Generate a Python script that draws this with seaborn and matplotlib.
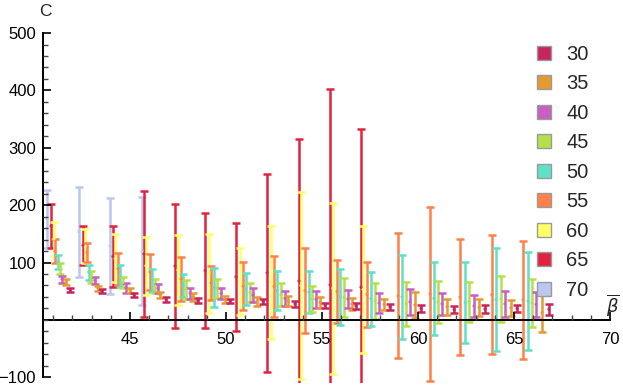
import numpy as np
import pandas as pd
import seaborn as sns
import matplotlib.pyplot as plt
from matplotlib.lines import Line2D

# series labels (legend) and colours
sizes = [30, 35, 40, 45, 50, 55, 60, 65, 70]
colors = ['#C8245E', '#E59A30', '#C95FC0', '#B5E04A', '#5FE0C8',
          '#FF8048', '#FFFF66', '#E0243F', '#B8C8F0']

# values: beta-bar, centre, half error
beta30 = [40.21, 41.88, 43.54, 45.21, 46.88, 48.54, 50.21, 51.93, 53.59, 55.16, 56.77, 58.54, 60.16, 61.88, 63.49, 65.16, 66.82]
mean30 = [63, 52.5, 50.5, 43.5, 35.5, 34, 33.5, 32.5, 28, 25.5, 24.5, 22.5, 20, 18, 19, 20, 18.5]
err30 = [5, 3.5, 3.5, 3.5, 4.5, 4, 3.5, 4.5, 5, 4.5, 5.5, 5.5, 6, 6, 7, 6, 9.5]

beta35 = [41.67, 43.33, 45.00, 46.56, 48.28, 49.95, 51.61, 53.23, 54.90, 56.56, 58.23, 59.84, 61.51, 63.18, 64.84, 66.46]
mean35 = [66, 55, 51.5, 43.5, 40, 36, 32, 33, 30.5, 27.5, 27, 26, 23, 22, 21, 13]
err35 = [5, 4, 4.5, 5.5, 7, 6, 8, 9, 9.5, 10.5, 10, 23, 14, 15, 14, 34]

beta40 = [41.46, 43.18, 44.79, 46.46, 48.13, 49.74, 51.41, 53.07, 54.69, 56.35, 57.97, 59.58, 61.25, 62.92, 64.53, 66.15]
mean40 = [71, 69, 56, 55, 46.5, 46.5, 43.5, 37.5, 36, 36.5, 29.5, 31.5, 28, 24.5, 28, 27]
err40 = [6, 6, 9, 8, 9.5, 9.5, 12.5, 13.5, 15, 15.5, 17.5, 22.5, 19, 19.5, 23, 22]

beta45 = [41.35, 42.97, 44.64, 46.30, 47.92, 49.53, 51.25, 52.86, 54.48, 56.15, 57.76, 59.38, 61.04, 62.66, 64.32, 65.94]
mean45 = [89.5, 74.5, 65.5, 59, 53.5, 54.5, 48, 44, 36.5, 39, 33, 28, 31.5, 31.5, 37, 29.5]
err45 = [9.5, 10.5, 9.5, 12, 16.5, 16.5, 17, 20, 22.5, 34, 31, 38, 36.5, 34.5, 40, 41.5]

beta50 = [41.25, 42.86, 44.48, 46.15, 47.76, 49.38, 51.04, 52.66, 54.32, 55.94, 57.55, 59.17, 60.83, 62.45, 64.06, 65.73]
mean50 = [101, 83, 77, 69, 60, 56.5, 54, 51, 48.5, 40, 37, 40, 37.5, 30, 35, 33]
err50 = [12, 13, 19, 20, 20, 33.5, 28, 34, 36.5, 49, 47, 73, 63.5, 71, 90, 85]

beta55 = [41.09, 42.76, 44.38, 46.04, 47.66, 49.22, 50.89, 52.50, 54.11, 55.78, 57.34, 58.96, 60.63, 62.19, 63.85, 65.47]
mean55 = [120, 117.5, 89, 83.5, 71.5, 64.5, 59, 58.5, 51, 50, 44.5, 42, 45, 40, 44, 35]
err55 = [21, 16.5, 28, 31.5, 38.5, 29.5, 42, 53.5, 74, 55, 56.5, 109, 152, 101, 104, 103]

beta60 = [41.04, 42.66, 44.22, 45.83, 47.50, 49.11, 50.73, 52.34, 53.91, 55.57, 57.14]
mean60 = [141, 128.5, 108, 94.5, 87, 81, 67, 65, 60, 55, 53]
err60 = [30, 29.5, 42, 50.5, 61, 69, 58, 99, 163, 149, 111]

beta65 = [40.89, 42.55, 44.11, 45.73, 47.34, 48.91, 50.52, 52.14, 53.80, 55.42, 57.03]
mean65 = [163.5, 130, 110.5, 115, 94, 86, 75, 82, 68, 61, 57]
err65 = [38.5, 34, 52.5, 110, 108, 100, 94, 172, 247, 342, 276]

beta70 = [40.68, 42.34, 43.96, 45.63]
mean70 = [176, 153.5, 128.5, 120]
err70 = [51, 78.5, 83.5, 94]

series = {
    30: (beta30, mean30, err30), 35: (beta35, mean35, err35),
    40: (beta40, mean40, err40), 45: (beta45, mean45, err45),
    50: (beta50, mean50, err50), 55: (beta55, mean55, err55),
    60: (beta60, mean60, err60), 65: (beta65, mean65, err65),
    70: (beta70, mean70, err70),
}

rows = []
for L, (b, m, e) in series.items():
    for bi, mi, ei in zip(b, m, e):
        rows.append({'L': L, 'beta': bi, 'C': mi, 'err': ei})
df = pd.DataFrame(rows)

sns.set_style("ticks", {'axes.axisbelow': False})
plt.rcParams['font.family'] = ['Liberation Sans', 'DejaVu Sans']
palette = dict(zip(sizes, colors))

fig = plt.figure(figsize=(6.23, 3.91), dpi=100)
# axes starts where the vertical axis line sits
ax = fig.add_axes([43 / 623, 0.0205, 1 - 43 / 623 - 1.5 / 623, 0.9097])

# 70 first so the small-L bars sit on top
for L in sizes[::-1]:
    d = df[df['L'] == L]
    ax.errorbar(d['beta'], d['C'], yerr=d['err'], fmt='none', ecolor=palette[L],
                elinewidth=1.8, capsize=2.6, capthick=1.8, zorder=2)
sns.scatterplot(data=df, x='beta', y='C', hue='L', palette=palette, s=5,
                linewidth=0, legend=False, ax=ax, zorder=3)

ax.set_xlim(40.47, 70.6)
ax.set_ylim(-110, 510)
ax.set_xlabel('')
ax.set_ylabel('')

# mathematica style axes: horizontal one through y = 0
for s in ['top', 'right']:
    ax.spines[s].set_visible(False)
ax.spines['bottom'].set_position('zero')
ax.spines['bottom'].set_bounds(40.47, 70)
ax.spines['left'].set_bounds(-100, 500)
for s in ['left', 'bottom']:
    ax.spines[s].set_linewidth(1.4)
    ax.spines[s].set_color('black')
    ax.spines[s].set_zorder(6)
# vertical axis line drawn again on top, in case the spine gets hidden
ax.axvline(40.47, ymin=10 / 620, ymax=610 / 620, color='black', lw=1.4, zorder=6)
ax.xaxis.set_zorder(6)
ax.yaxis.set_zorder(6)

ax.set_xticks([45, 50, 55, 60, 65, 70])
ax.set_xticks(np.arange(41, 71, 1), minor=True)
ax.set_yticks([-100, 100, 200, 300, 400, 500])
ax.set_yticks(np.arange(-100, 501, 20), minor=True)
ax.tick_params(axis='both', which='major', direction='in', length=6, width=1.2,
               color='black', labelcolor='black', labelsize=12,
               bottom=True, left=True, top=False, right=False)
ax.tick_params(axis='both', which='minor', direction='in', length=3.5, width=1.0,
               color='#444444', bottom=True, left=True, top=False, right=False)
ax.tick_params(axis='x', which='major', pad=9)
ax.tick_params(axis='y', which='major', pad=5)

fig.text(45 / 623, 1 - 12 / 391, 'C', ha='center', va='center', fontsize=12.5)
fig.text(613 / 623, 1 - 305 / 391, r'$\overline{\beta}$', ha='center', va='center', fontsize=13)

handles = [Line2D([], [], marker='s', linestyle='', markersize=10.5,
                  markerfacecolor=c, markeredgecolor='#9a9a9a', markeredgewidth=1)
           for c in colors]
fig.legend(handles, [str(s) for s in sizes], loc='upper left',
           bbox_to_anchor=(534 / 623, 1 - 45 / 391), frameon=False,
           fontsize=14.5, handlelength=1.0, handletextpad=0.6,
           labelspacing=0.52, borderpad=0, borderaxespad=0)

plt.savefig('out.png', dpi=100)
